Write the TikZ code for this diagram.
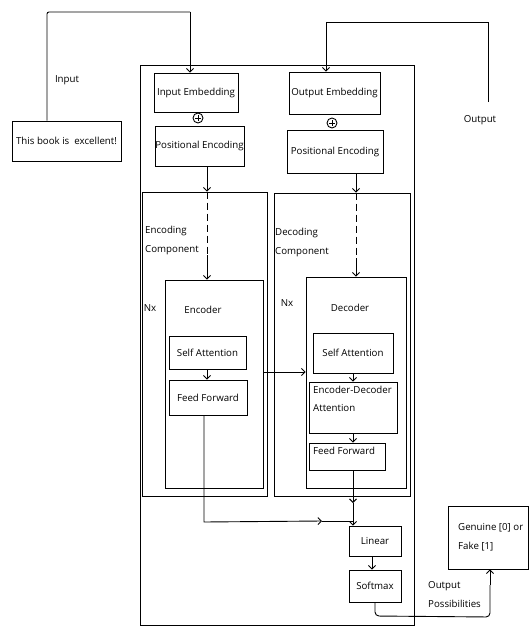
\documentclass[tikz,border=0pt]{standalone}
\usepackage{fontspec}
\setmainfont{Open Sans}
\usetikzlibrary{arrows.meta}
\tikzset{
  lw/.style={line width=0.9pt},
  arr/.style={lw,-{Straight Barb[length=3.5pt,width=7pt]}},
  bx/.style={draw,lw,inner sep=0pt,font=\fontsize{9.7}{11}\selectfont},
  lbl/.style={inner sep=0pt,font=\fontsize{9.7}{11}\selectfont},
  ml/.style={inner sep=0pt,align=left,font=\fontsize{9.7}{19}\selectfont},
  pl/.style={draw,circle,lw,minimum size=10pt,inner sep=0pt,
    path picture={\draw[line width=0.8pt] ([xshift=-2.6pt]path picture bounding box.center) -- ([xshift=2.6pt]path picture bounding box.center) ([yshift=-2.6pt]path picture bounding box.center) -- ([yshift=2.6pt]path picture bounding box.center);}}
}
\begin{document}
\begin{tikzpicture}[x=1pt,y=-1pt]
\useasboundingbox (0,0) rectangle (529,626);
% outer containers
\node[draw,lw,minimum width=274,minimum height=560] (outer) at (277,345) {};
\node[draw,lw,minimum width=125,minimum height=304] (enccomp) at (204.5,344) {};
\node[draw,lw,minimum width=136,minimum height=303] (deccomp) at (342,344.5) {};
\node[draw,lw,minimum width=98,minimum height=208] (encoder) at (214,384) {};
\node[draw,lw,minimum width=100,minimum height=211] (decoder) at (356,382.5) {};
% boxes
\node[bx,minimum width=109,minimum height=40] (thisbook) at (66.5,141) {This book is\ \ excellent!};
\node[bx,minimum width=84,minimum height=39] (inemb) at (196,92.5) {Input Embedding};
\node[pl] (plusL) at (198,118) {};
\node[bx,minimum width=89,minimum height=40] (inpos) at (199.5,146) {Positional Encoding};
\node[bx,minimum width=91,minimum height=42] (outemb) at (334.5,93) {Output Embedding};
\node[pl] (plusR) at (332,123) {};
\node[bx,minimum width=96,minimum height=43] (outpos) at (335,151.5) {Positional Encoding};
\node[bx,minimum width=77,minimum height=33] (encSA) at (207.5,352.5) {Self Attention};
\node[bx,minimum width=78,minimum height=35] (encFF) at (208,397.5) {Feed Forward};
\node[bx,minimum width=80,minimum height=40] (decSA) at (353,353) {Self Attention};
\node[draw,lw,minimum width=88,minimum height=51] (decED) at (353,407.5) {};
\node[lbl,anchor=north west,align=left,font=\fontsize{9.7}{18}\selectfont] (decEDt) at (313,386) {Encoder-Decoder\\Attention};
\node[draw,lw,minimum width=76,minimum height=27] (decFF) at (347,456.5) {};
\node[lbl,anchor=north west] (decFFt) at (313,447) {Feed Forward};
\node[bx,minimum width=52,minimum height=30] (linear) at (375,541) {Linear};
\node[bx,minimum width=52,minimum height=32] (softmax) at (375,586) {Softmax};
\node[draw,lw,minimum width=80,minimum height=63] (genuine) at (488,537.5) {};
\node[ml,anchor=west] (genuinet) at (458,537) {Genuine [0] or\\Fake [1]};
% labels
\node[lbl] (inputl) at (67,80) {Input};
\node[lbl] (outputl) at (480,120) {Output};
\node[ml,anchor=west] (enccompl) at (145,240) {Encoding\\Component};
\node[ml,anchor=west] (deccompl) at (275,242) {Decoding\\Component};
\node[lbl] (nx1) at (150,308) {Nx};
\node[lbl] (nx2) at (287,303) {Nx};
\node[lbl] (encl) at (203,310) {Encoder};
\node[lbl] (decl) at (350,308) {Decoder};
\node[ml,anchor=west] (outposs) at (428,595) {Output\\Possibilities};
% coordinates
\coordinate (inA) at (47,12);
\coordinate (inB) at (190,12);
\coordinate (outS) at (488,102);
\coordinate (outA) at (488,22);
\coordinate (outB) at (326,22);
\coordinate (encX) at (207,0);
\coordinate (decX) at (356,0);
\coordinate (encD) at (207,255);
\coordinate (decD) at (356,258);
\coordinate (ffX) at (204,0);
\coordinate (joinA) at (204,522);
\coordinate (joinM) at (322,521);
\coordinate (joinB) at (353,521);
\coordinate (decM) at (353,503);
\coordinate (smA) at (375,616);
\coordinate (smB) at (490,617);
\coordinate (crossY) at (0,372);
% connectors
\draw[lw,rounded corners=2pt] (thisbook.north -| inA) -- (inA) -- (inB);
\draw[arr] (inB) -- (inB |- inemb.north);
\draw[lw] (outS) -- (outA) -- (outB);
\draw[arr] (outB) -- (outB |- outemb.north);
\draw[arr] (inpos.south -| encX) -- (enccomp.north -| encX);
\draw[lw,dashed,dash pattern=on 7pt off 4pt] (enccomp.north -| encX) -- (encD);
\draw[arr] (encD) -- (encoder.north -| encX);
\draw[arr] (outpos.south -| decX) -- (deccomp.north -| decX);
\draw[lw,dashed,dash pattern=on 7pt off 4pt] (deccomp.north -| decX) -- (decD);
\draw[arr] (decD) -- (decoder.north -| decX);
\draw[arr] (encSA.south -| encX) -- (encFF.north -| encX);
\draw[arr] (encoder.east |- crossY) -- (decoder.west |- crossY);
\draw[arr] (decSA.south -| joinB) -- (decED.north -| joinB);
\draw[arr] (decED.south -| joinB) -- (decFF.north -| joinB);
\draw[arr] (encFF.south -| ffX) -- (joinA) -- (joinM);
\draw[lw] (joinM) -- (joinB);
\draw[arr] (decFF.south -| joinB) -- (decM);
\draw[arr] (decM) -- (linear.north -| joinB);
\draw[arr] (linear.south -| 372,0) -- (softmax.north -| 372,0);
\draw[lw,rounded corners=4pt] (softmax.south) -- (smA) -- (smB) -- (smB |- 585,585);
\draw[arr] (smB |- 585,585) -- (smB |- genuine.south);
\end{tikzpicture}
\end{document}
